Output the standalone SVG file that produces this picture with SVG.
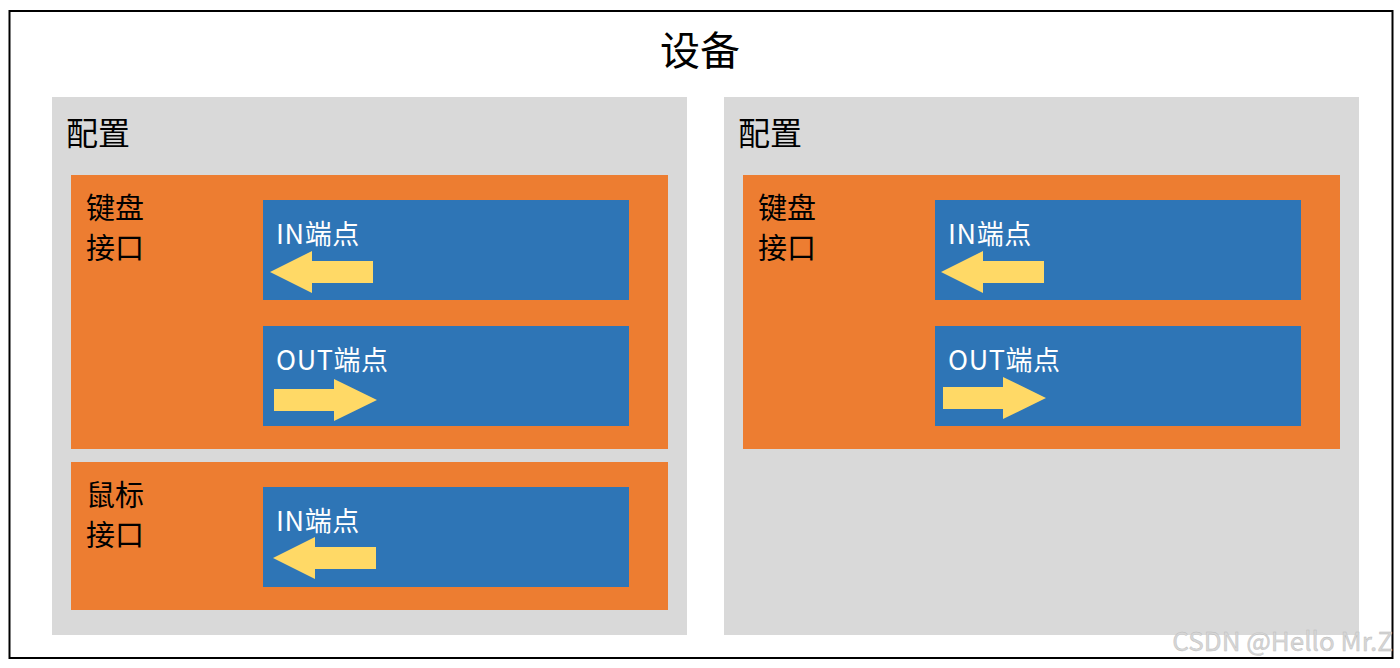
<svg xmlns="http://www.w3.org/2000/svg" width="1400" height="668" viewBox="0 0 1400 668">
<style>
text{font-family:"Noto Sans CJK SC","Noto Sans",sans-serif}
.panel{fill:#D9D9D9}
.iface{fill:#ED7D31}
.ep{fill:#2E75B6}
.arr{fill:#FFD966}
.lbl{fill:#000;font-size:29px}
.eplbl{fill:#fff;font-size:27px;letter-spacing:0.6px}
</style>
<rect x="0" y="0" width="1400" height="668" fill="#fff"/>
<g id="device">
<rect x="9.5" y="11" width="1383" height="647" fill="#fff" stroke="#000" stroke-width="2"/>
<text x="700" y="65" text-anchor="middle" font-size="40" fill="#000">设备</text>
</g>
<g id="config1">
<rect class="panel" x="52" y="97" width="635" height="538"/>
<text x="66" y="145" font-size="32" fill="#000">配置</text>
</g>
<g id="config2">
<rect class="panel" x="724" y="97" width="635" height="538"/>
<text x="738" y="145" font-size="32" fill="#000">配置</text>
</g>
<g id="kbd1">
<rect class="iface" x="71" y="175" width="597" height="274"/>
<text class="lbl" x="86" y="219">键盘</text>
<text class="lbl" x="86" y="259">接口</text>
</g>
<g id="mouse1">
<rect class="iface" x="71" y="462" width="597" height="148"/>
<text class="lbl" x="86" y="506">鼠标</text>
<text class="lbl" x="86" y="546">接口</text>
</g>
<g id="kbd2">
<rect class="iface" x="743" y="175" width="597" height="274"/>
<text class="lbl" x="758" y="219">键盘</text>
<text class="lbl" x="758" y="259">接口</text>
</g>
<g id="kbd1-in">
<rect class="ep" x="263" y="200" width="366" height="100"/>
<text class="eplbl" x="276" y="244">IN端点</text>
</g>
<g id="kbd1-out">
<rect class="ep" x="263" y="326" width="366" height="100"/>
<text class="eplbl" x="276" y="370">OUT端点</text>
</g>
<g id="mouse1-in">
<rect class="ep" x="263" y="487" width="366" height="100"/>
<text class="eplbl" x="276" y="531">IN端点</text>
</g>
<g id="kbd2-in">
<rect class="ep" x="935" y="200" width="366" height="100"/>
<text class="eplbl" x="948" y="244">IN端点</text>
</g>
<g id="kbd2-out">
<rect class="ep" x="935" y="326" width="366" height="100"/>
<text class="eplbl" x="948" y="370">OUT端点</text>
</g>
<g id="connectors">
<polygon class="arr" points="270,272 312,251 312,261 373,261 373,283 312,283 312,293"/>
<polygon class="arr" points="377,400 334,379 334,389 274,389 274,411 334,411 334,421"/>
<polygon class="arr" points="273,558 315,537 315,547 376,547 376,569 315,569 315,579"/>
<polygon class="arr" points="941,272 983,251 983,261 1044,261 1044,283 983,283 983,293"/>
<polygon class="arr" points="1046,398 1003,377 1003,387 943,387 943,409 1003,409 1003,419"/>
</g>
<text x="1393" y="651" text-anchor="end" font-family="Liberation Sans, sans-serif" font-size="26" fill="#d6d6d6" stroke="#bbb" stroke-width="0.4">CSDN @Hello Mr.Z</text>
</svg>
